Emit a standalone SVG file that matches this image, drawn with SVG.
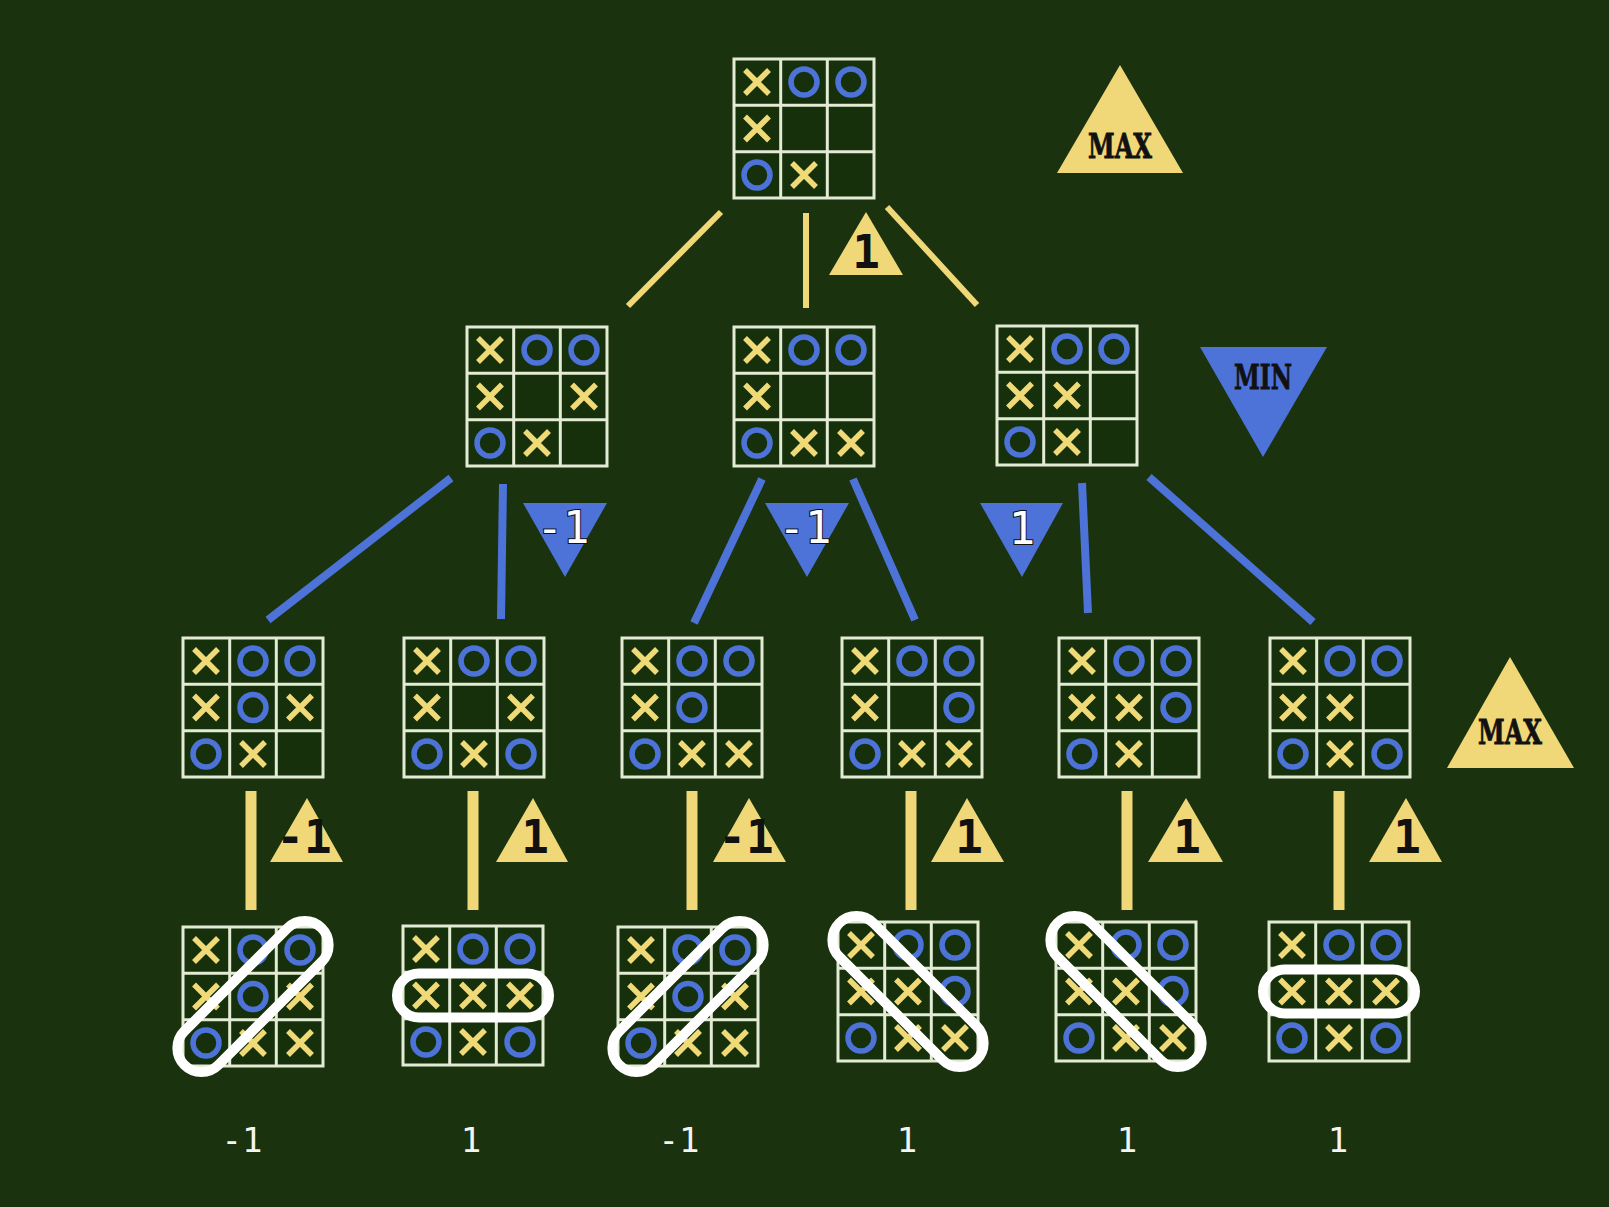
<svg xmlns="http://www.w3.org/2000/svg" xmlns:xlink="http://www.w3.org/1999/xlink" width="1609" height="1207" viewBox="0 0 1609 1207">
<style>
.gl{stroke:#e3ebd4;stroke-width:3;fill:none}
.x{stroke:#f0da78;stroke-width:5.5;fill:none}
.o{stroke:#4d72d8;stroke-width:5.5;fill:none}
.yl{stroke:#f0d878;stroke-linecap:butt}
.bl{stroke:#4d72d8;stroke-width:8;stroke-linecap:butt}
.ytri{fill:#f0d878}
.btri{fill:#4d72d8}
.lab{font-family:"DejaVu Serif","Liberation Serif",serif;font-weight:bold;font-size:34px;fill:#111;text-anchor:middle;stroke:#111;stroke-width:0.8}
.yv{font-family:"DejaVu Sans Mono",monospace;font-weight:bold;font-size:46px;fill:#111;text-anchor:middle}
.bv{font-family:"DejaVu Sans Mono",monospace;font-size:44px;fill:#fff;text-anchor:middle;stroke:#111;stroke-width:2;paint-order:stroke}
.fv{font-family:"DejaVu Sans Mono",monospace;font-size:34px;fill:#f4f4f4;text-anchor:middle}
.win{stroke:#ffffff;stroke-width:10;fill:none}
</style>
<defs>
<path id="X" class="x" d="M-12,-12L12,12M12,-12L-12,12"/>
<circle id="O" class="o" r="13"/>
<g id="base">
<rect x="0" y="0" width="140" height="139" fill="#15300b"/>
<path class="gl" d="M0,0H140V139H0Z M46.7,0V139 M93.3,0V139 M0,46.3H140 M0,92.7H140"/>
<use href="#X" x="23" y="23"/>
<use href="#O" x="70" y="23"/>
<use href="#O" x="117" y="23"/>
<use href="#X" x="23" y="69.5"/>
<use href="#O" x="23" y="116"/>
<use href="#X" x="70" y="116"/>
</g>
<rect id="rowwin" class="win" x="-6" y="47.5" width="152" height="44" rx="22"/>
<rect id="diagwin" class="win" x="-97" y="-24" width="194" height="48" rx="24"/>
</defs>
<rect width="1609" height="1207" fill="#1a320e"/>

<g id="connectors">
<line class="yl" stroke-width="6" x1="721" y1="212" x2="628" y2="306"/>
<line class="yl" stroke-width="6" x1="806" y1="213" x2="806" y2="308"/>
<line class="yl" stroke-width="6" x1="887" y1="207" x2="977" y2="305"/>
<line class="bl" x1="451" y1="478" x2="268" y2="620"/>
<line class="bl" x1="503" y1="484" x2="501" y2="619"/>
<line class="bl" x1="762" y1="479" x2="694" y2="623"/>
<line class="bl" x1="853" y1="479" x2="915" y2="620"/>
<line class="bl" x1="1082" y1="483" x2="1088" y2="613"/>
<line class="bl" x1="1149" y1="477" x2="1313" y2="622"/>
<line class="yl" stroke-width="11" x1="251" y1="791" x2="251" y2="910"/>
<line class="yl" stroke-width="11" x1="473" y1="791" x2="473" y2="910"/>
<line class="yl" stroke-width="11" x1="692" y1="791" x2="692" y2="910"/>
<line class="yl" stroke-width="11" x1="911" y1="791" x2="911" y2="910"/>
<line class="yl" stroke-width="11" x1="1127" y1="791" x2="1127" y2="910"/>
<line class="yl" stroke-width="11" x1="1339" y1="791" x2="1339" y2="910"/>
</g>

<g id="node-root" transform="translate(734,59)"><use href="#base"/></g>

<g id="node-l1-a" transform="translate(467,327)"><use href="#base"/><use href="#X" x="117" y="69.5"/></g>
<g id="node-l1-b" transform="translate(734,327)"><use href="#base"/><use href="#X" x="117" y="116"/></g>
<g id="node-l1-c" transform="translate(997,326)"><use href="#base"/><use href="#X" x="70" y="69.5"/></g>

<g id="node-l2-1" transform="translate(183,638)"><use href="#base"/><use href="#O" x="70" y="69.5"/><use href="#X" x="117" y="69.5"/></g>
<g id="node-l2-2" transform="translate(404,638)"><use href="#base"/><use href="#X" x="117" y="69.5"/><use href="#O" x="117" y="116"/></g>
<g id="node-l2-3" transform="translate(622,638)"><use href="#base"/><use href="#O" x="70" y="69.5"/><use href="#X" x="117" y="116"/></g>
<g id="node-l2-4" transform="translate(842,638)"><use href="#base"/><use href="#O" x="117" y="69.5"/><use href="#X" x="117" y="116"/></g>
<g id="node-l2-5" transform="translate(1059,638)"><use href="#base"/><use href="#X" x="70" y="69.5"/><use href="#O" x="117" y="69.5"/></g>
<g id="node-l2-6" transform="translate(1270,638)"><use href="#base"/><use href="#X" x="70" y="69.5"/><use href="#O" x="117" y="116"/></g>

<g id="node-l3-1" transform="translate(183,927)"><use href="#base"/><use href="#O" x="70" y="69.5"/><use href="#X" x="117" y="69.5"/><use href="#X" x="117" y="116"/><use href="#diagwin" transform="translate(70,69.5) rotate(-45)"/></g>
<g id="node-l3-2" transform="translate(403,926)"><use href="#base"/><use href="#X" x="70" y="69.5"/><use href="#X" x="117" y="69.5"/><use href="#O" x="117" y="116"/><use href="#rowwin"/></g>
<g id="node-l3-3" transform="translate(618,927)"><use href="#base"/><use href="#O" x="70" y="69.5"/><use href="#X" x="117" y="69.5"/><use href="#X" x="117" y="116"/><use href="#diagwin" transform="translate(70,69.5) rotate(-45)"/></g>
<g id="node-l3-4" transform="translate(838,922)"><use href="#base"/><use href="#X" x="70" y="69.5"/><use href="#O" x="117" y="69.5"/><use href="#X" x="117" y="116"/><use href="#diagwin" transform="translate(70,69.5) rotate(45)"/></g>
<g id="node-l3-5" transform="translate(1056,922)"><use href="#base"/><use href="#X" x="70" y="69.5"/><use href="#O" x="117" y="69.5"/><use href="#X" x="117" y="116"/><use href="#diagwin" transform="translate(70,69.5) rotate(45)"/></g>
<g id="node-l3-6" transform="translate(1269,922)"><use href="#base"/><use href="#X" x="70" y="69.5"/><use href="#X" x="117" y="69.5"/><use href="#O" x="117" y="116"/><use href="#rowwin"/></g>

<g id="label-max-top"><polygon class="ytri" points="1120,65 1183,173 1057,173"/><text class="lab" x="1120" y="158" textLength="64" lengthAdjust="spacingAndGlyphs">MAX</text></g>
<g id="label-min"><polygon class="btri" points="1200,347 1327,347 1263,457"/><text class="lab" x="1263" y="389" textLength="58" lengthAdjust="spacingAndGlyphs">MIN</text></g>
<g id="label-max-bottom"><polygon class="ytri" points="1510,657 1574,768 1447,768"/><text class="lab" x="1510" y="744" textLength="64" lengthAdjust="spacingAndGlyphs">MAX</text></g>

<g id="value-root"><polygon class="ytri" points="866,212 903,275 829,275"/><text class="yv" x="866" y="268">1</text></g>

<g id="value-l1-a"><polygon class="btri" points="523,503 607,503 565,577"/><text class="bv" x="563" y="543">-1</text></g>
<g id="value-l1-b"><polygon class="btri" points="765,503 849,503 807,577"/><text class="bv" x="805" y="543">-1</text></g>
<g id="value-l1-c"><polygon class="btri" points="980,503 1063,503 1022,577"/><text class="bv" x="1022" y="544">1</text></g>

<g id="value-l2-1"><polygon class="ytri" points="307,798 343,862 270,862"/><text class="yv" x="304" y="853">-1</text></g>
<g id="value-l2-2"><polygon class="ytri" points="533,798 568,862 496,862"/><text class="yv" x="535" y="853">1</text></g>
<g id="value-l2-3"><polygon class="ytri" points="749,798 786,862 713,862"/><text class="yv" x="746" y="853">-1</text></g>
<g id="value-l2-4"><polygon class="ytri" points="967,798 1004,862 931,862"/><text class="yv" x="969" y="853">1</text></g>
<g id="value-l2-5"><polygon class="ytri" points="1186,798 1223,862 1148,862"/><text class="yv" x="1187" y="853">1</text></g>
<g id="value-l2-6"><polygon class="ytri" points="1406,798 1442,862 1369,862"/><text class="yv" x="1407" y="853">1</text></g>

<g id="value-leaves">
<text class="fv" x="242" y="1152">-1</text>
<text class="fv" x="471" y="1152">1</text>
<text class="fv" x="679" y="1152">-1</text>
<text class="fv" x="907" y="1152">1</text>
<text class="fv" x="1127" y="1152">1</text>
<text class="fv" x="1338" y="1152">1</text>
</g>
</svg>
